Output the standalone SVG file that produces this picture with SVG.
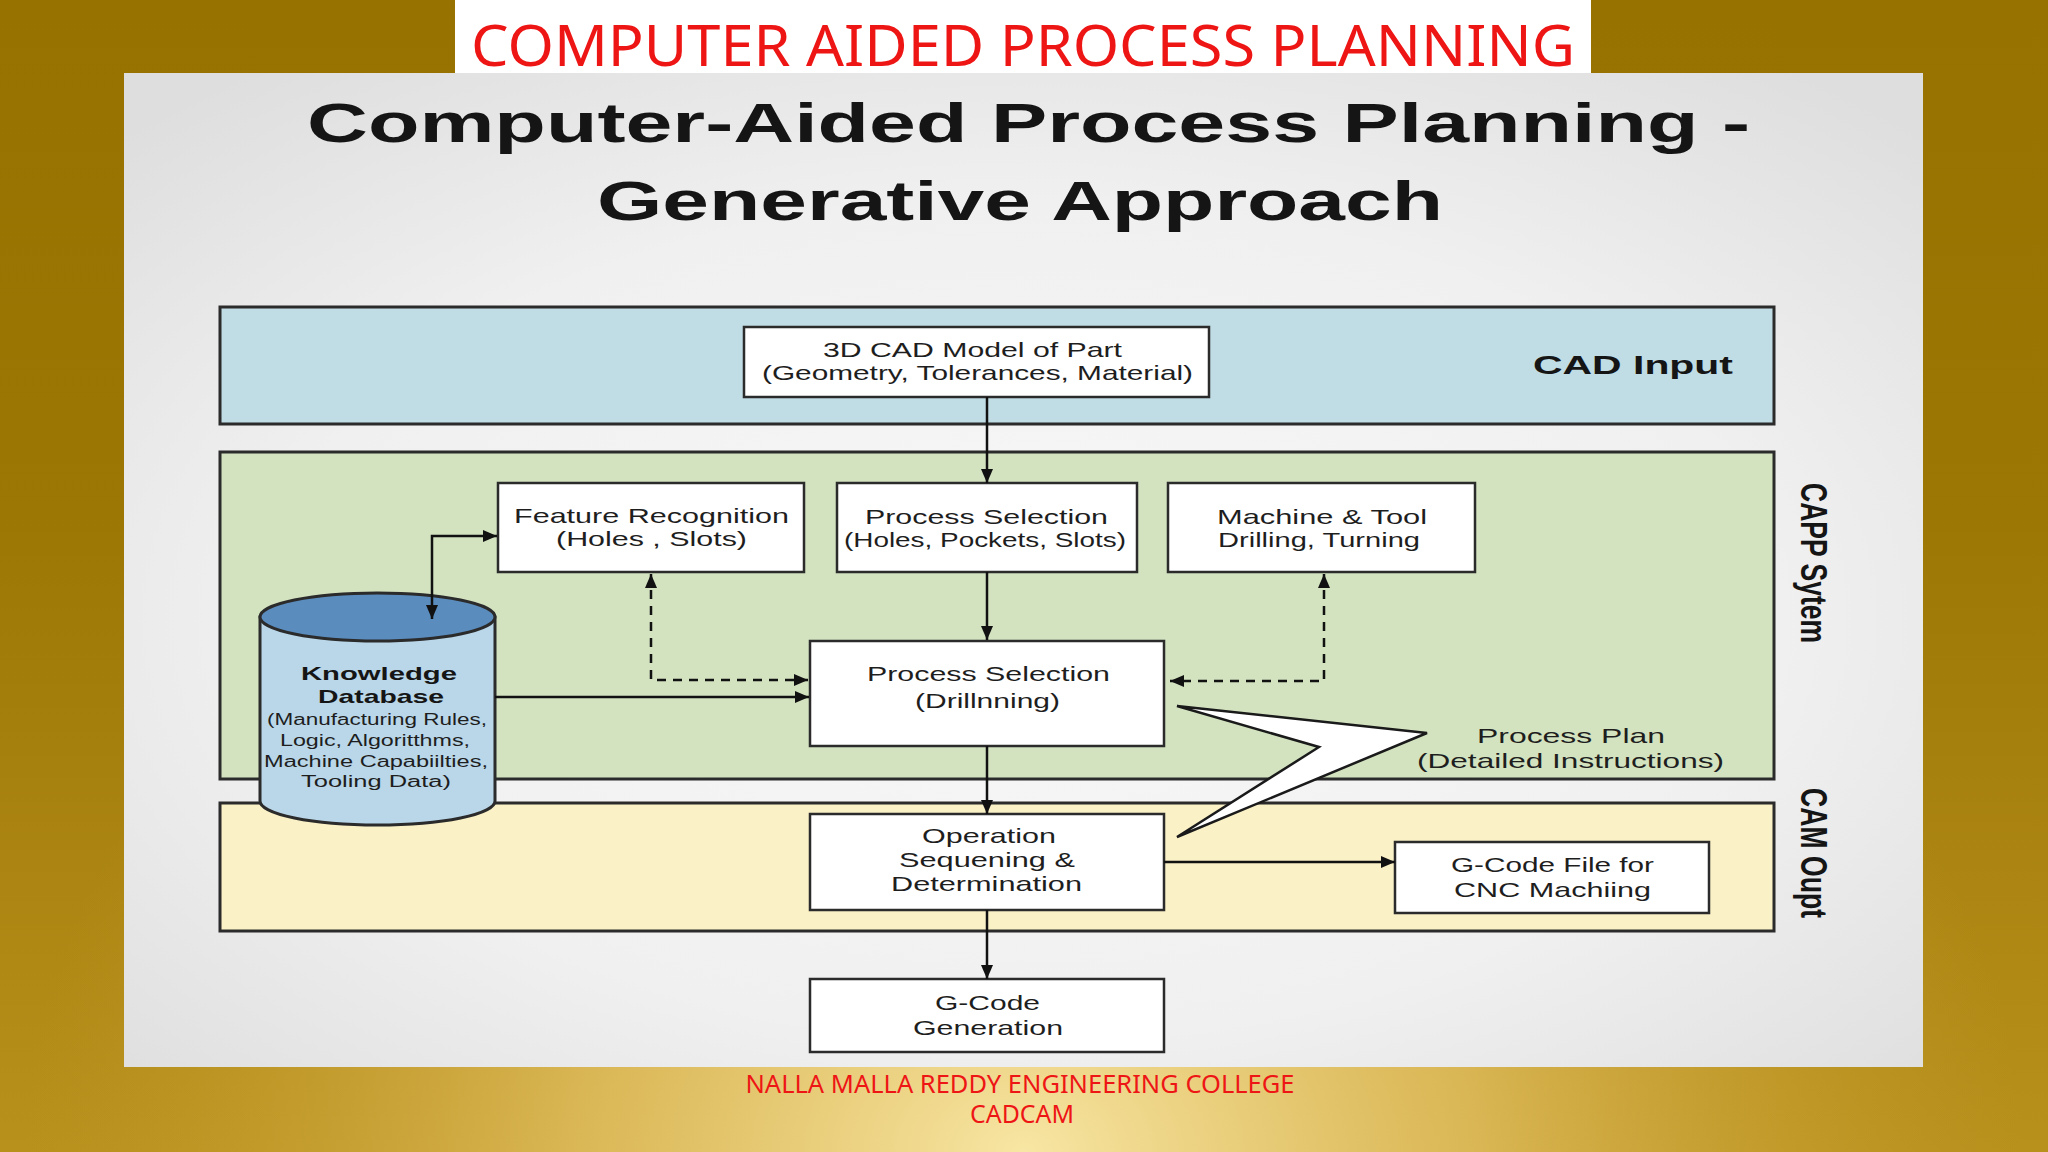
<svg xmlns="http://www.w3.org/2000/svg" width="2048" height="1152" viewBox="0 0 2048 1152">
<defs>
<linearGradient id="bgLin" x1="0" y1="0" x2="0" y2="1">
<stop offset="0" stop-color="#977200"/>
<stop offset="0.45" stop-color="#9C7704"/>
<stop offset="1" stop-color="#B8901C"/>
</linearGradient>
<radialGradient id="bgRad" cx="1024" cy="1152" r="1000" gradientUnits="userSpaceOnUse" gradientTransform="translate(1024 1152) scale(1 0.75) translate(-1024 -1152)">
<stop offset="0" stop-color="#F8E6A4" stop-opacity="1"/>
<stop offset="0.45" stop-color="#E6C468" stop-opacity="0.75"/>
<stop offset="1" stop-color="#C9A030" stop-opacity="0"/>
</radialGradient>
<radialGradient id="panelGrad" cx="0.5" cy="0.55" r="0.7">
<stop offset="0" stop-color="#F8F8F8"/>
<stop offset="0.6" stop-color="#F0F0F0"/>
<stop offset="1" stop-color="#DEDEDE"/>
</radialGradient>
<marker id="arr" viewBox="0 0 14 12" refX="14" refY="6" markerWidth="14" markerHeight="12" markerUnits="userSpaceOnUse" orient="auto-start-reverse">
<path d="M0,0 L14,6 L0,12 z" fill="#111"/>
</marker>
<style>
.band{stroke:#2b2b2b;stroke-width:3}
.box{fill:#ffffff;stroke:#2b2b2b;stroke-width:2.5}
.t{font-family:"Liberation Sans",Arial,sans-serif;font-size:21px;fill:#1e1e1e}
.tb{font-family:"Liberation Sans",Arial,sans-serif;font-weight:bold;fill:#151515}
.cyl{font-family:"Liberation Sans",Arial,sans-serif;font-size:16px;fill:#1e1e1e}
.red{font-family:"Noto Sans","Open Sans",sans-serif;fill:#EE1515}
.ln{fill:none;stroke:#111;stroke-width:2.5}
.dash{fill:none;stroke:#111;stroke-width:2.5;stroke-dasharray:9 7}
</style>
</defs>

<g id="background">
<rect x="0" y="0" width="2048" height="1152" fill="url(#bgLin)"/>
<rect x="0" y="0" width="2048" height="1152" fill="url(#bgRad)"/>
</g>

<g id="slide-title">
<rect x="455" y="0" width="1136" height="73" fill="#ffffff"/>
<text class="red" x="471" y="66" font-size="57" textLength="1104" lengthAdjust="spacingAndGlyphs">COMPUTER AIDED PROCESS PLANNING</text>
</g>

<g id="panel">
<rect x="124" y="73" width="1799" height="994" fill="url(#panelGrad)"/>
<text class="tb" x="307" y="142" font-size="55" textLength="1443" lengthAdjust="spacingAndGlyphs">Computer-Aided Process Planning -</text>
<text class="tb" x="597" y="220" font-size="55" textLength="846" lengthAdjust="spacingAndGlyphs">Generative Approach</text>
</g>

<g id="band-cad">
<rect class="band" x="220" y="307" width="1554" height="117" fill="#C0DCE5"/>
<text class="tb" x="1533" y="374" font-size="26" textLength="200" lengthAdjust="spacingAndGlyphs">CAD Input</text>
</g>

<g id="band-capp">
<rect class="band" x="220" y="452" width="1554" height="327" fill="#D3E3C0"/>
<text class="tb" transform="translate(1801 483) rotate(90)" font-size="36" textLength="160" lengthAdjust="spacingAndGlyphs">CAPP Sytem</text>
</g>

<g id="band-cam">
<rect class="band" x="220" y="803" width="1554" height="128" fill="#FAF1C6"/>
<text class="tb" transform="translate(1801 788) rotate(90)" font-size="36" textLength="130" lengthAdjust="spacingAndGlyphs">CAM Oupt</text>
</g>

<g id="node-cad-model">
<rect class="box" x="744" y="327" width="465" height="70"/>
<text class="t" x="823" y="357" textLength="299" lengthAdjust="spacingAndGlyphs">3D CAD Model of Part</text>
<text class="t" x="762" y="380" textLength="431" lengthAdjust="spacingAndGlyphs">(Geometry, Tolerances, Material)</text>
</g>

<g id="node-feature-recognition">
<rect class="box" x="498" y="483" width="306" height="89"/>
<text class="t" x="514" y="523" textLength="275" lengthAdjust="spacingAndGlyphs">Feature Recognition</text>
<text class="t" x="556" y="546" textLength="191" lengthAdjust="spacingAndGlyphs">(Holes , Slots)</text>
</g>

<g id="node-process-selection-top">
<rect class="box" x="837" y="483" width="300" height="89"/>
<text class="t" x="865" y="524" textLength="243" lengthAdjust="spacingAndGlyphs">Process Selection</text>
<text class="t" x="844" y="547" textLength="282" lengthAdjust="spacingAndGlyphs">(Holes, Pockets, Slots)</text>
</g>

<g id="node-machine-tool">
<rect class="box" x="1168" y="483" width="307" height="89"/>
<text class="t" x="1217" y="524" textLength="210" lengthAdjust="spacingAndGlyphs">Machine &amp; Tool</text>
<text class="t" x="1218" y="547" textLength="202" lengthAdjust="spacingAndGlyphs">Drilling, Turning</text>
</g>

<g id="node-knowledge-db">
<path d="M260,617 L260,801 A117.5,24 0 0 0 495,801 L495,617 Z" fill="#B9D7E9" stroke="#2b2b2b" stroke-width="3"/>
<ellipse cx="377.5" cy="617" rx="117.5" ry="24" fill="#5A8CBE" stroke="#2b2b2b" stroke-width="3"/>
<text class="tb" x="301" y="680" font-size="19" textLength="156" lengthAdjust="spacingAndGlyphs">Knowledge</text>
<text class="tb" x="318" y="703" font-size="19" textLength="126" lengthAdjust="spacingAndGlyphs">Database</text>
<text class="cyl" x="267" y="725" textLength="220" lengthAdjust="spacingAndGlyphs">(Manufacturing Rules,</text>
<text class="cyl" x="280" y="746" textLength="190" lengthAdjust="spacingAndGlyphs">Logic, Algoritthms,</text>
<text class="cyl" x="264" y="767" textLength="224" lengthAdjust="spacingAndGlyphs">Machine Capabiilties,</text>
<text class="cyl" x="301" y="787" textLength="150" lengthAdjust="spacingAndGlyphs">Tooling Data)</text>
</g>

<g id="node-process-selection-drilling">
<rect class="box" x="810" y="641" width="354" height="105"/>
<text class="t" x="867" y="681" textLength="243" lengthAdjust="spacingAndGlyphs">Process Selection</text>
<text class="t" x="915" y="708" textLength="145" lengthAdjust="spacingAndGlyphs">(Drillnning)</text>
</g>

<g id="node-process-plan">
<polygon points="1177,706 1427,733 1177,837 1319,747" fill="#ffffff" stroke="#1a1a1a" stroke-width="2.5" stroke-linejoin="miter"/>
<text class="t" x="1477" y="743" textLength="188" lengthAdjust="spacingAndGlyphs">Process Plan</text>
<text class="t" x="1417" y="768" textLength="307" lengthAdjust="spacingAndGlyphs">(Detailed Instructions)</text>
</g>

<g id="node-operation-sequencing">
<rect class="box" x="810" y="814" width="354" height="96"/>
<text class="t" x="922" y="843" textLength="134" lengthAdjust="spacingAndGlyphs">Operation</text>
<text class="t" x="899" y="867" textLength="176" lengthAdjust="spacingAndGlyphs">Sequening &amp;</text>
<text class="t" x="891" y="891" textLength="191" lengthAdjust="spacingAndGlyphs">Determination</text>
</g>

<g id="node-gcode-file">
<rect class="box" x="1395" y="842" width="314" height="71"/>
<text class="t" x="1451" y="872" textLength="203" lengthAdjust="spacingAndGlyphs">G-Code File for</text>
<text class="t" x="1454" y="897" textLength="197" lengthAdjust="spacingAndGlyphs">CNC Machiing</text>
</g>

<g id="node-gcode-generation">
<rect class="box" x="810" y="979" width="354" height="73"/>
<text class="t" x="935" y="1010" textLength="105" lengthAdjust="spacingAndGlyphs">G-Code</text>
<text class="t" x="913" y="1035" textLength="150" lengthAdjust="spacingAndGlyphs">Generation</text>
</g>

<g id="connectors">
<path class="ln" d="M987,397 L987,483" marker-end="url(#arr)"/>
<path class="ln" d="M987,572 L987,640" marker-end="url(#arr)"/>
<path class="ln" d="M987,746 L987,814" marker-end="url(#arr)"/>
<path class="ln" d="M987,910 L987,979" marker-end="url(#arr)"/>
<path class="ln" d="M1164,862 L1395,862" marker-end="url(#arr)"/>
<path class="ln" d="M432,619 L432,536 L497,536" marker-start="url(#arr)" marker-end="url(#arr)"/>
<path class="ln" d="M495,697 L809,697" marker-end="url(#arr)"/>
<path class="dash" d="M651,574 L651,680 L808,680" marker-start="url(#arr)" marker-end="url(#arr)"/>
<path class="dash" d="M1324,574 L1324,681 L1170,681" marker-start="url(#arr)" marker-end="url(#arr)"/>
</g>

<g id="footer">
<text class="red" x="1020" y="1093" font-size="25" text-anchor="middle" textLength="549" lengthAdjust="spacingAndGlyphs">NALLA MALLA REDDY ENGINEERING COLLEGE</text>
<text class="red" x="1022" y="1123" font-size="25" text-anchor="middle" textLength="104" lengthAdjust="spacingAndGlyphs">CADCAM</text>
</g>
</svg>
